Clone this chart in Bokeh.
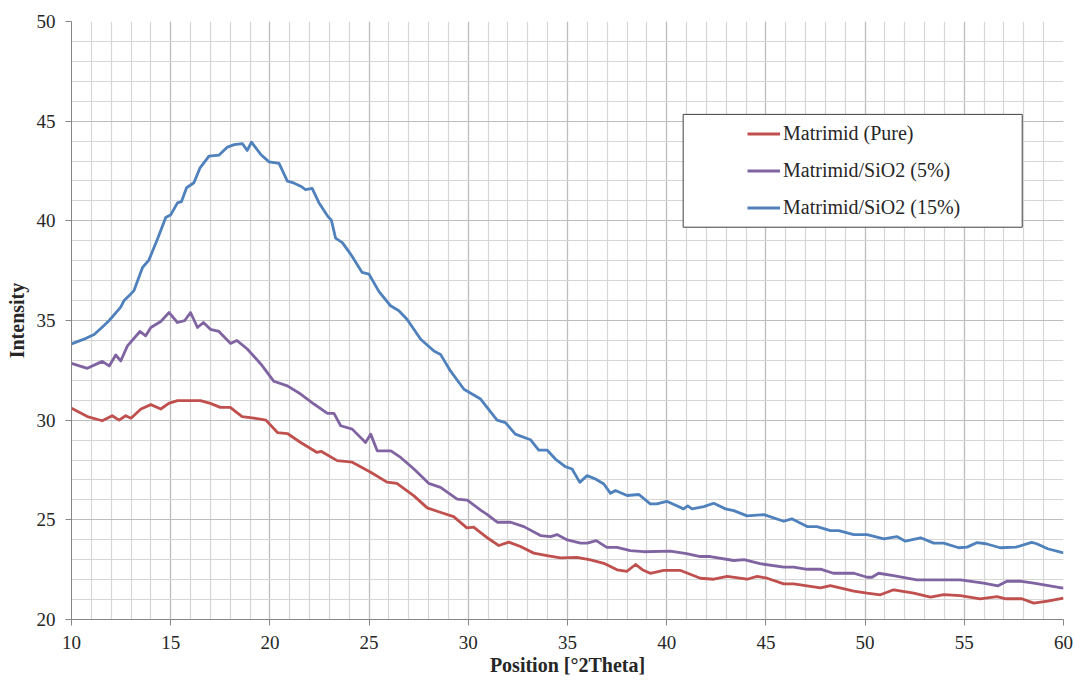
from bokeh.plotting import figure
from bokeh.models import (Range1d, FixedTicker, Legend, LegendItem, BoxAnnotation)
from bokeh.embed import file_html
from bokeh.resources import INLINE

# XRD patterns: position (°2Theta) vs intensity
pure_x = [10.0, 10.8, 11.55, 12.05, 12.4, 12.73, 13.0, 13.5, 14.0, 14.5, 14.9, 15.34,
          16.5, 17.0, 17.5, 18.0, 18.6, 19.2, 19.8, 20.38, 20.88, 21.55, 22.38, 22.6,
          23.39, 24.15, 25.08, 25.9, 26.4, 27.26, 27.93, 28.58, 29.26, 29.93, 30.27,
          30.96, 31.54, 32.04, 32.63, 33.3, 33.97, 34.64, 35.48, 36.16, 36.83, 37.5,
          38.0, 38.43, 38.77, 39.17, 39.85, 40.7, 41.7, 42.37, 43.05, 44.05, 44.56,
          45.06, 45.9, 46.4, 47.75, 48.25, 49.43, 50.1, 50.77, 51.44, 52.45, 53.3,
          53.96, 54.8, 55.8, 56.65, 57.1, 57.9, 58.5, 59.2, 60.0]
pure_y = [30.6, 30.18, 29.97, 30.22, 30.0, 30.22, 30.1, 30.56, 30.78, 30.56, 30.84, 30.98,
          30.98, 30.84, 30.64, 30.64, 30.18, 30.1, 30.0, 29.38, 29.33, 28.88, 28.38, 28.43,
          27.97, 27.89, 27.39, 26.89, 26.83, 26.2, 25.6, 25.38, 25.16, 24.6, 24.63,
          24.1, 23.71, 23.88, 23.66, 23.33, 23.21, 23.09, 23.12, 22.99, 22.82, 22.49,
          22.42, 22.76, 22.5, 22.32, 22.46, 22.46, 22.07, 22.02, 22.16, 22.02, 22.16,
          22.07, 21.79, 21.79, 21.59, 21.7, 21.42, 21.32, 21.24, 21.49, 21.32, 21.12,
          21.25, 21.2, 21.04, 21.15, 21.04, 21.04, 20.82, 20.92, 21.07]

sio2_5_x = [10.0, 10.8, 11.55, 11.9, 12.23, 12.48, 12.82, 13.45, 13.74, 14.0, 14.5, 14.92,
            15.34, 15.7, 16.0, 16.35, 16.65, 17.0, 17.43, 18.02, 18.33, 18.86, 19.54,
            20.2, 20.88, 21.55, 22.22, 22.9, 23.23, 23.57, 24.15, 24.82, 25.08, 25.41,
            26.1, 26.59, 27.26, 28.0, 28.6, 29.44, 29.95, 30.62, 30.96, 31.46, 32.13,
            32.8, 33.64, 34.15, 34.47, 34.99, 35.66, 36.0, 36.45, 36.98, 37.5, 38.16,
            38.84, 40.18, 41.0, 41.7, 42.2, 43.38, 43.9, 44.7, 45.9, 46.4, 47.08, 47.75,
            48.4, 49.43, 50.1, 50.35, 50.68, 51.43, 52.6, 53.46, 54.8, 55.97, 56.7,
            57.15, 57.8, 58.5, 59.9, 60.0]
sio2_5_y = [32.85, 32.6, 32.95, 32.72, 33.27, 32.97, 33.73, 34.45, 34.23, 34.65, 34.95, 35.4,
            34.9, 34.99, 35.4, 34.65, 34.9, 34.56, 34.45, 33.85, 34.0, 33.57, 32.82,
            31.95, 31.72, 31.31, 30.81, 30.34, 30.34, 29.72, 29.55, 28.88, 29.3, 28.46,
            28.46, 28.13, 27.55, 26.83, 26.63, 26.04, 25.99, 25.49, 25.26, 24.88, 24.88,
            24.66, 24.21, 24.16, 24.26, 23.99, 23.83, 23.83, 23.96, 23.62, 23.62, 23.46,
            23.4, 23.43, 23.3, 23.16, 23.16, 22.96, 23.0, 22.8, 22.63, 22.63, 22.52, 22.53,
            22.32, 22.32, 22.12, 22.12, 22.32, 22.2, 21.99, 21.99, 21.99, 21.82, 21.69,
            21.92, 21.92, 21.82, 21.59, 21.58]

sio2_15_x = [10.0, 10.6, 11.14, 11.64, 11.9, 12.48, 12.64, 12.9, 13.15, 13.58, 13.9, 14.33,
             14.75, 15.0, 15.34, 15.54, 15.8, 16.17, 16.48, 16.93, 17.44, 17.86, 18.2,
             18.61, 18.86, 19.07, 19.54, 19.96, 20.46, 20.88, 21.2, 21.55, 21.8, 22.13,
             22.47, 22.9, 23.1, 23.31, 23.65, 24.07, 24.65, 24.99, 25.5, 26.08, 26.5,
             26.92, 27.6, 28.27, 28.6, 29.1, 29.78, 30.62, 31.45, 31.87, 32.37, 33.13,
             33.55, 33.97, 34.39, 34.89, 35.23, 35.62, 35.99, 36.41, 36.83, 37.17, 37.42,
             38.0, 38.6, 39.17, 39.5, 40.0, 40.85, 41.06, 41.28, 41.87, 42.37, 42.96,
             43.38, 44.05, 44.9, 45.9, 46.3, 47.08, 47.58, 48.25, 48.67, 49.43, 50.1,
             50.94, 51.6, 52.03, 52.8, 53.46, 53.96, 54.72, 55.14, 55.65, 56.1, 56.8,
             57.6, 58.4, 58.65, 59.2, 59.9, 60.0]
sio2_15_y = [33.83, 34.05, 34.3, 34.75, 35.0, 35.67, 35.99, 36.24, 36.5, 37.66, 38.03, 39.08,
             40.17, 40.3, 40.9, 40.96, 41.66, 41.91, 42.66, 43.25, 43.3, 43.7, 43.82,
             43.87, 43.53, 43.95, 43.33, 42.96, 42.88, 41.99, 41.9, 41.74, 41.57, 41.63,
             40.91, 40.25, 40.03, 39.13, 38.91, 38.33, 37.41, 37.33, 36.45, 35.74, 35.49,
             35.05, 34.06, 33.47, 33.3, 32.47, 31.55, 31.06, 30.0, 29.88, 29.3, 29.02,
             28.5, 28.5, 28.05, 27.67, 27.55, 26.88, 27.22, 27.05, 26.8, 26.33, 26.47,
             26.22, 26.27, 25.8, 25.8, 25.93, 25.55, 25.7, 25.55, 25.66, 25.83, 25.55,
             25.46, 25.2, 25.26, 24.93, 25.05, 24.66, 24.66, 24.46, 24.46, 24.26, 24.26,
             24.05, 24.16, 23.93, 24.1, 23.83, 23.83, 23.6, 23.63, 23.86, 23.8, 23.6,
             23.63, 23.87, 23.8, 23.55, 23.37, 23.36]

series_names = ["Matrimid (Pure)", "Matrimid/SiO2 (5%)", "Matrimid/SiO2 (15%)"]
series_colors = ["#C0504D", "#8064A2", "#4F81BD"]

x_major = [10, 15, 20, 25, 30, 35, 40, 45, 50, 55, 60]
x_minor = list(range(10, 61))
y_major = [20, 25, 30, 35, 40, 45, 50]
y_minor = list(range(20, 51))

FONT = "Liberation Serif"

p = figure(width=1074, height=680, output_backend="svg", toolbar_location=None,
           x_range=Range1d(10, 60), y_range=Range1d(20, 50),
           min_border_left=71, min_border_right=11, min_border_top=21, min_border_bottom=61)
p.outline_line_color = None
p.background_fill_color = "white"
p.border_fill_color = "white"

for ax, major, minor in ((p.xaxis[0], x_major, x_minor), (p.yaxis[0], y_major, y_minor)):
    ax.ticker = FixedTicker(ticks=major, minor_ticks=minor)
    ax.axis_line_color = "#868686"
    ax.major_tick_line_color = "#868686"
    ax.major_tick_out = 6
    ax.major_tick_in = 0
    ax.minor_tick_line_color = None
    ax.major_label_text_font = FONT
    ax.major_label_text_font_size = "19px"
    ax.major_label_text_color = "#262626"
    ax.major_label_standoff = 10
    ax.axis_label_text_font = FONT
    ax.axis_label_text_font_style = "bold"
    ax.axis_label_text_font_size = "20px"
    ax.axis_label_text_color = "#262626"

p.xaxis.axis_label = "Position [°2Theta]"
p.yaxis.axis_label = "Intensity"
p.xaxis.axis_label_standoff = 2
p.yaxis.axis_label_standoff = 6

for g in (p.xgrid[0], p.ygrid[0]):
    g.grid_line_color = "#BDBDBD"
    g.grid_line_width = 1.2
    g.minor_grid_line_color = "#D6D6D6"
    g.minor_grid_line_width = 1.2

renderers = []
for xs, ys, color in ((pure_x, pure_y, series_colors[0]),
                      (sio2_5_x, sio2_5_y, series_colors[1]),
                      (sio2_15_x, sio2_15_y, series_colors[2])):
    r = p.line(xs, ys, line_color=color, line_width=2.8, line_join="round")
    renderers.append(r)

# legend frame
frame = BoxAnnotation(left=40.83, right=57.92, bottom=39.68, top=45.34,
                      fill_color="white", fill_alpha=1.0,
                      line_color="#404040", line_alpha=1.0, line_width=1)
p.add_layout(frame)

legend = Legend(items=[LegendItem(label=n, renderers=[r]) for n, r in zip(series_names, renderers)],
                location=(676, 400), padding=0, margin=0, spacing=14,
                glyph_width=33, glyph_height=21, label_height=21, label_standoff=3,
                label_text_font=FONT, label_text_font_size="20px", label_text_color="#262626",
                background_fill_alpha=0, border_line_color=None)
p.add_layout(legend, "center")

open("out.html", "w").write(file_html(p, INLINE))
